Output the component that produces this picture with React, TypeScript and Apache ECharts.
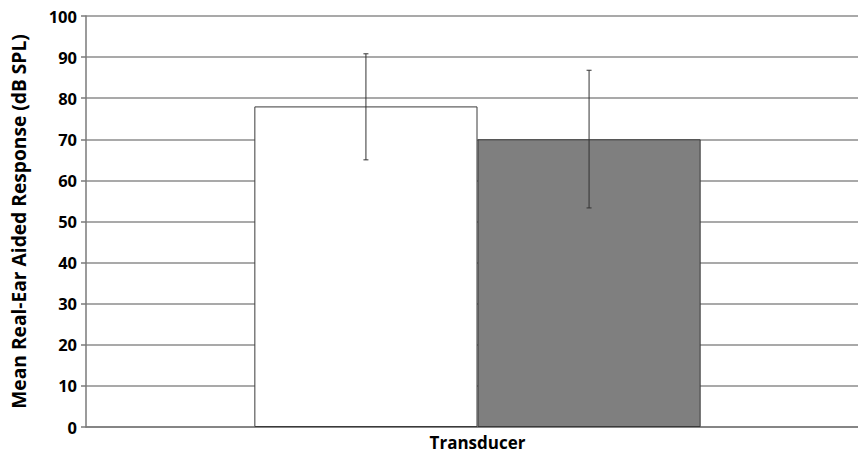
import React, { useEffect, useRef } from "react";
import * as echarts from "echarts";

const categories = ["Transducer"];
const seriesNames = ["Transducer 1", "Transducer 2"];
const meanValues = [78, 70];
const errLow = [65, 53.3];
const errHigh = [90.8, 86.8];
const barColors = ["#ffffff", "#7f7f7f"];
const yTicks = { min: 0, max: 100, interval: 10 };

const CATEGORY_GAP = 0.43;

export default function App() {
  const ref = useRef<HTMLDivElement>(null);
  useEffect(() => {
    if (!ref.current) return;
    const chart = echarts.init(ref.current, null, { renderer: "svg" });
    const errData = meanValues.map((_, i) => [0, errLow[i], errHigh[i], i]);
    const option: any = {
      animation: false,
      backgroundColor: "#ffffff",
      grid: { left: 86, top: 16, width: 783, height: 411, containLabel: false },
      xAxis: {
        type: "category",
        data: categories,
        axisLine: { show: true, lineStyle: { color: "#7a7a7a", width: 1.5 } },
        axisTick: { show: false },
        axisLabel: {
          show: true,
          color: "#000",
          fontFamily: "Open Sans",
          fontWeight: "bold",
          fontSize: 17,
          margin: 7,
        },
        splitLine: { show: false },
      },
      yAxis: {
        type: "value",
        min: yTicks.min,
        max: yTicks.max,
        interval: yTicks.interval,
        name: "Mean Real-Ear Aided Response (dB SPL)",
        nameLocation: "middle",
        nameRotate: 90,
        nameGap: 58,
        nameTextStyle: {
          color: "#000",
          fontFamily: "Open Sans",
          fontWeight: "bold",
          fontSize: 19.2,
        },
        axisLine: { show: true, lineStyle: { color: "#7a7a7a", width: 1.5 } },
        axisTick: { show: true, length: 5, lineStyle: { color: "#7a7a7a", width: 1.5 } },
        axisLabel: {
          color: "#000",
          fontFamily: "Open Sans",
          fontWeight: "bold",
          fontSize: 16.5,
          margin: 9,
        },
        splitLine: { show: true, lineStyle: { color: "#8c8c8c", width: 1.5 } },
      },
      series: [
        ...meanValues.map((v, i) => ({
          type: "bar",
          name: seriesNames[i],
          data: [v],
          barGap: "0%",
          barCategoryGap: CATEGORY_GAP * 100 + "%",
          itemStyle: { color: barColors[i], borderColor: "#3a3a3a", borderWidth: 1 },
          z: 2,
        })),
        {
          type: "custom",
          name: "error",
          data: errData,
          encode: { x: 0, y: [1, 2] },
          z: 5,
          renderItem: (params: any, api: any) => {
            const cat = api.value(0);
            const lo = api.value(1);
            const hi = api.value(2);
            const idx = api.value(3);
            const band = api.size([1, 0])[0];
            const barW = (band * (1 - CATEGORY_GAP)) / 2;
            const c = api.coord([cat, 0]);
            const x = c[0] + (idx === 0 ? -barW / 2 : barW / 2);
            const yTop = api.coord([cat, hi])[1];
            const yBot = api.coord([cat, lo])[1];
            const style = { stroke: "#333", lineWidth: 1 };
            return {
              type: "group",
              children: [
                { type: "line", shape: { x1: x, y1: yTop, x2: x, y2: yBot }, style },
                { type: "line", shape: { x1: x - 2.5, y1: yTop, x2: x + 2.5, y2: yTop }, style },
                { type: "line", shape: { x1: x - 2.5, y1: yBot, x2: x + 2.5, y2: yBot }, style },
              ],
            };
          },
        },
      ],
    };
    chart.setOption(option);
    return () => chart.dispose();
  }, []);
  return (
    <div
      style={{ position: "fixed", left: 0, top: 0, width: 858, height: 455, overflow: "hidden" }}
    >
      <div ref={ref} style={{ width: 880, height: 455 }} />
    </div>
  );
}
